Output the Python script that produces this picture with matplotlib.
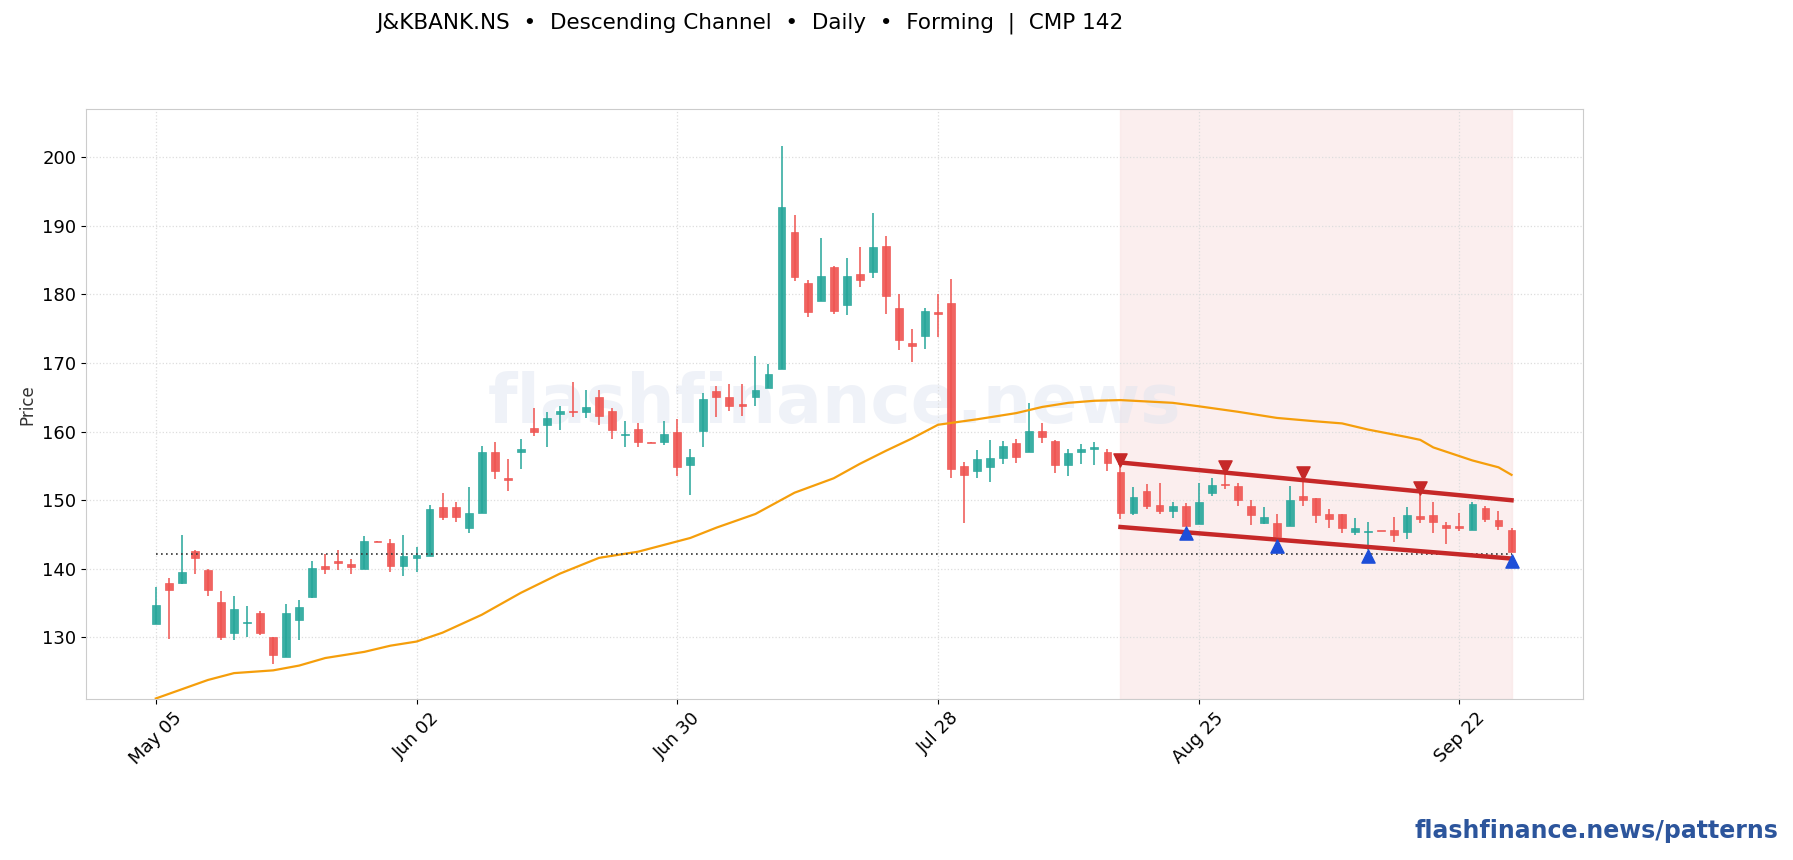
import numpy as np
import pandas as pd
import matplotlib.pyplot as plt

# OHLC, one row per trading day from May 05
opens = [132.0, 137.9, 138.0, 142.6, 139.9, 135.1, 130.7, 132.1, 133.5, 130.0,
         127.1, 132.5, 135.9, 140.4, 141.1, 140.7, 140.0, 144.0, 143.7, 140.4,
         141.6, 141.9, 149.0, 149.0, 145.9, 148.2, 157.0, 153.2, 157.0, 160.5,
         160.9, 162.5, 163.0, 162.9, 165.0, 163.0, 159.5, 160.4, 158.5, 158.5,
         159.9, 155.2, 160.1, 165.9, 165.0, 164.1, 165.0, 166.3, 169.1, 189.1,
         181.7, 179.1, 184.0, 178.4, 183.0, 183.2, 187.0, 178.0, 172.9, 174.0,
         177.4, 178.7, 155.0, 154.3, 154.9, 156.2, 158.4, 157.0, 160.1, 158.6,
         155.2, 157.1, 157.4, 157.0, 154.1, 148.2, 151.4, 149.3, 148.4, 149.2,
         146.6, 151.1, 152.4, 152.1, 149.2, 146.7, 146.7, 146.2, 150.6, 150.3,
         148.0, 148.0, 145.3, 145.4, 145.55, 145.6, 145.3, 147.7, 147.9, 146.4,
         146.3, 145.6, 148.9, 147.1, 145.7]
closes = [134.7, 136.9, 139.6, 141.6, 136.9, 130.0, 134.2, 132.2, 130.7, 127.5,
          133.5, 134.4, 140.1, 140.0, 140.9, 140.2, 144.0, 143.9, 140.4, 141.9,
          142.0, 148.7, 147.6, 147.5, 148.2, 157.0, 154.3, 153.0, 157.5, 159.9,
          162.0, 163.0, 162.8, 163.6, 162.3, 160.2, 159.7, 158.5, 158.4, 159.6,
          154.8, 156.3, 164.7, 165.1, 163.7, 163.7, 166.0, 168.4, 192.7, 182.6,
          177.4, 182.7, 177.6, 182.7, 182.1, 186.9, 179.8, 173.4, 172.5, 177.6,
          177.2, 154.6, 153.7, 156.0, 156.2, 157.9, 156.3, 160.1, 159.2, 155.1,
          156.9, 157.5, 157.8, 155.5, 148.1, 150.5, 149.1, 148.4, 149.2, 146.3,
          149.7, 152.2, 152.2, 150.1, 147.8, 147.5, 144.6, 150.0, 150.0, 147.9,
          147.2, 145.9, 145.9, 145.5, 145.45, 144.9, 147.9, 147.3, 146.8, 146.0,
          146.0, 149.5, 147.2, 146.2, 142.5]
highs = [137.3, 138.6, 145.0, 142.7, 140.0, 136.8, 136.1, 134.6, 133.9, 130.0,
         134.9, 135.4, 141.2, 142.1, 142.7, 141.5, 144.8, 144.0, 144.4, 145.0,
         143.2, 149.3, 151.0, 149.8, 151.9, 157.9, 158.5, 156.0, 158.9, 163.5,
         162.9, 163.8, 167.2, 166.1, 166.0, 163.5, 161.5, 161.2, 158.5, 161.5,
         161.8, 157.5, 165.6, 166.6, 167.0, 166.9, 171.0, 169.8, 201.7, 191.6,
         182.1, 188.3, 184.2, 185.3, 186.9, 191.9, 188.5, 180.0, 174.9, 178.0,
         180.0, 182.3, 155.6, 157.3, 158.8, 158.6, 158.9, 164.2, 161.2, 158.8,
         157.4, 158.2, 158.5, 157.4, 156.3, 151.9, 152.3, 152.5, 149.7, 149.6,
         152.5, 153.2, 154.9, 152.5, 150.0, 149.0, 148.0, 152.1, 153.2, 150.3,
         148.7, 148.0, 147.4, 146.8, 145.55, 147.6, 149.0, 151.7, 149.8, 146.9,
         148.1, 149.7, 149.2, 148.5, 146.0]
lows = [132.0, 129.7, 137.8, 139.2, 136.1, 129.6, 129.6, 130.0, 130.3, 126.2,
        127.1, 129.6, 135.7, 139.2, 139.8, 139.3, 140.0, 143.9, 139.5, 138.9,
        139.6, 141.9, 147.1, 146.8, 145.2, 148.2, 153.1, 151.4, 154.5, 159.3,
        157.7, 160.2, 162.1, 162.0, 160.9, 159.0, 157.7, 157.7, 158.4, 158.0,
        153.6, 150.7, 157.8, 162.1, 163.0, 162.3, 163.7, 166.3, 169.1, 181.9,
        176.7, 179.1, 177.1, 177.0, 181.1, 182.4, 177.2, 171.9, 170.2, 172.1,
        173.8, 153.2, 146.7, 153.3, 152.7, 155.3, 155.5, 157.0, 158.3, 154.0,
        153.5, 155.3, 155.1, 154.3, 147.2, 147.8, 148.7, 148.0, 147.4, 146.3,
        146.6, 150.6, 151.6, 149.2, 146.4, 146.5, 144.6, 146.2, 149.2, 146.7,
        145.9, 145.2, 144.9, 142.8, 145.45, 143.9, 144.3, 146.7, 145.2, 143.6,
        145.5, 145.6, 146.8, 145.7, 142.5]

ma_idx = [0, 4, 6, 9, 11, 13, 16, 18, 20, 22, 25, 28, 31, 34, 37, 41, 43, 46, 49,
          52, 54, 56, 58, 60, 63, 66, 68, 70, 72, 74, 78, 80, 83, 86, 89, 91, 93,
          96, 97, 98, 101, 103, 104]
ma_val = [121.1, 123.8, 124.8, 125.2, 125.9, 127.0, 127.9, 128.8, 129.4, 130.7,
          133.3, 136.5, 139.3, 141.6, 142.5, 144.5, 146.0, 148.0, 151.1, 153.2,
          155.3, 157.2, 159.0, 161.0, 161.8, 162.7, 163.6, 164.2, 164.5, 164.6,
          164.2, 163.7, 162.9, 162.0, 161.5, 161.2, 160.3, 159.2, 158.8, 157.7,
          155.8, 154.8, 153.7]

upper_line = ([74, 104], [155.5, 150.0])
lower_line = ([74, 104], [146.1, 141.5])
peak_idx = [74, 82, 88, 97]
peak_val = [155.8, 154.8, 153.9, 151.8]
trough_idx = [79, 86, 93, 104]
trough_val = [145.2, 143.3, 141.8, 141.2]
cmp_price = 142.2

dates = pd.bdate_range('2025-05-05', periods=len(opens))
tick_idx = [0, 20, 40, 60, 80, 100]

green = '#26a69a'
red = '#ef5350'

fig = plt.figure(figsize=(17.93, 8.6), dpi=100)
ax = fig.add_axes([0.048, 0.187, 0.835, 0.686])

ax.axvspan(74, 104, color='#f9e4e4', alpha=0.6, zorder=0)

for i in range(len(opens)):
    o, c, h, l = opens[i], closes[i], highs[i], lows[i]
    col = green if c >= o else red
    ax.vlines(i, l, h, color=col, linewidth=1.1, zorder=2)
    bh = max(abs(c - o), 0.15)
    ax.bar(i, bh, bottom=min(o, c), width=0.6, color=col, edgecolor=col,
           linewidth=0.5, zorder=3, alpha=0.9)

ax.plot(ma_idx, ma_val, color='#f59e0b', linewidth=1.6, zorder=4)
ax.hlines(cmp_price, 0, 104, colors='#333333', linestyles=(0, (1, 2)),
          linewidth=1.2, zorder=4)
ax.plot(*upper_line, color='#c62828', linewidth=3.2, zorder=5)
ax.plot(*lower_line, color='#c62828', linewidth=3.2, zorder=5)
ax.scatter(peak_idx, peak_val, marker='v', s=90, color='#c62828', zorder=6)
ax.scatter(trough_idx, trough_val, marker='^', s=90, color='#1d4ed8', zorder=6)

ax.text(0.5, 0.5, 'flashfinance.news', transform=ax.transAxes, ha='center',
        va='center', fontsize=49, fontweight='bold', color='#dde3f0', alpha=0.45,
        zorder=1)

ax.set_xlim(-5.35, 109.5)
ax.set_ylim(121, 207)
ax.set_yticks(np.arange(130, 201, 10))
ax.set_xticks(tick_idx)
ax.set_xticklabels([dates[i].strftime('%b %d') for i in tick_idx], rotation=45)
ax.tick_params(labelsize=13)
ax.set_ylabel('Price', fontsize=12, color='#333333')
ax.grid(True, linestyle=':', color='#dddddd', linewidth=0.9)
for s in ax.spines.values():
    s.set_color('#cccccc')

fig.text(0.418, 0.985, 'J&KBANK.NS  •  Descending Channel  •  Daily  •  Forming  |  CMP 142',
         ha='center', va='top', fontsize=15.5)
fig.text(0.992, 0.02, 'flashfinance.news/patterns', ha='right', va='bottom',
         fontsize=17, fontweight='bold', color='#2c559c')

fig.savefig('out.png', dpi=100)
